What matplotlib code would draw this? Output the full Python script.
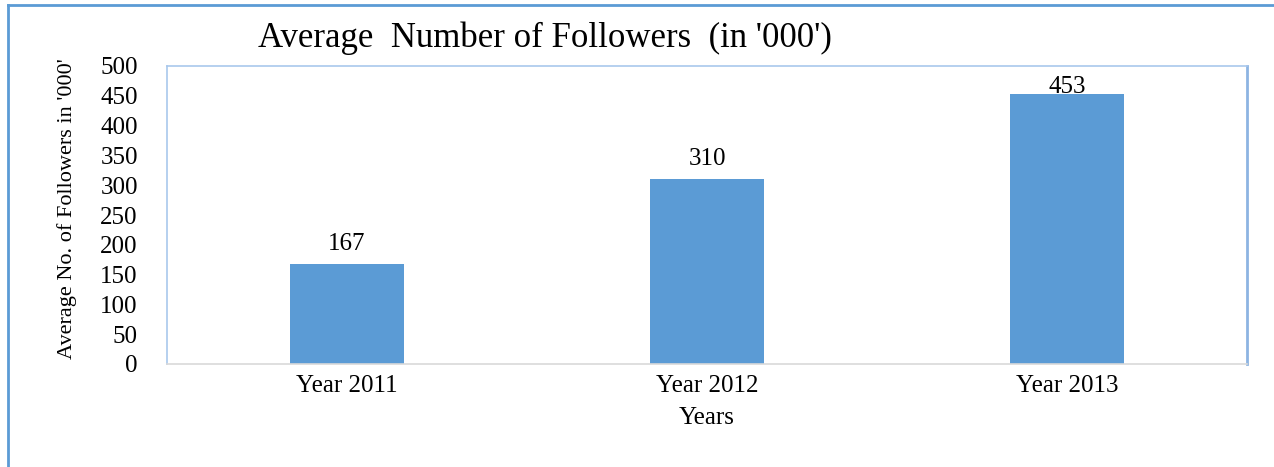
import matplotlib.pyplot as plt
from matplotlib.lines import Line2D

years = ["Year 2011", "Year 2012", "Year 2013"]
followers = [167, 310, 453]
yticks = [0, 50, 100, 150, 200, 250, 300, 350, 400, 450, 500]

plt.rcParams['font.family'] = ['Liberation Serif', 'DejaVu Serif']

fig = plt.figure(figsize=(12.74, 4.67), dpi=100)
ax = fig.add_axes([167/1274, 103/467, 1080/1274, 298/467])

x = range(len(years))
ax.bar(x, followers, width=0.315, color='#5B9BD5', zorder=2)

for i, v in enumerate(followers):
    ax.text(i, min(v + 16, 446), str(v), ha='center', va='bottom', fontsize=18)

ax.set_xlim(-0.5, len(years) - 0.5)
ax.set_ylim(0, 500)
ax.set_yticks(yticks)
ax.set_yticklabels([str(t) for t in yticks], fontsize=18)
ax.set_xticks(list(x))
ax.set_xticklabels(years, fontsize=18)
ax.tick_params(length=0)
ax.tick_params(axis='x', pad=8)
ax.tick_params(axis='y', pad=21)

for s in ['top', 'left', 'right']:
    ax.spines[s].set_color('#A9C8EC')
    ax.spines[s].set_linewidth(1.2)
ax.spines['right'].set_color('#8DB4E2')
ax.spines['right'].set_linewidth(2)
ax.spines['bottom'].set_color('#D9D9D9')
ax.spines['bottom'].set_linewidth(1.2)

ax.set_xlabel("Years", fontsize=18)
ax.xaxis.set_label_coords(0.5, -0.145)
ax.set_ylabel("Average No. of Followers in '000'", fontsize=16)
ax.yaxis.set_label_coords(-0.083, 0.523)

fig.text(545/1274, 1 - 38/467, "Average  Number of Followers  (in '000')",
         ha='center', va='center', fontsize=25)

# outer frame of the chart box
fig.add_artist(Line2D([8/1274, 8/1274], [0, 1 - 5/467], color='#5B9BD5', lw=2))
fig.add_artist(Line2D([8/1274, 1], [1 - 5/467, 1 - 5/467], color='#5B9BD5', lw=2))

fig.savefig('out.png', dpi=100)
